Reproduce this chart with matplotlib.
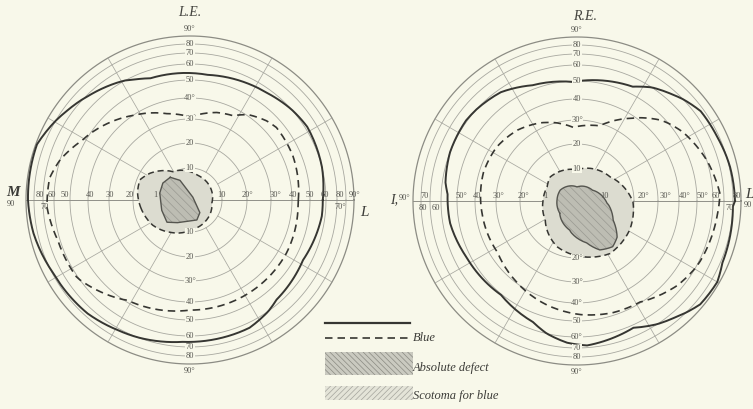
import numpy as np
import matplotlib
matplotlib.use("Agg")
import matplotlib.pyplot as plt
from matplotlib.patches import Polygon, Rectangle

BG = "#f8f8ea"
INK = "#363632"
GRID = "#a8a8a0"
SERIF = ["Liberation Serif", "DejaVu Serif"]

# perimeter scale: field degrees -> chart radius
ring_deg = [0, 10, 20, 30, 40, 50, 60, 70, 80, 90]
ring_rad = [0, 32, 57, 81, 102, 120, 136, 147, 156, 164]

# ---------------- L.E. (meridian angle in degrees, field extent in degrees)
le_white_ang = [0, 14, 32, 54, 82, 93, 108, 115, 122, 135, 144, 160, 180, 192, 208, 228, 241, 267, 295, 311, 332, 353]
le_white_deg = [58, 60, 62, 57.5, 54, 54.5, 55, 58, 62, 69, 75.5, 88.5, 87.5, 85, 79, 76.5, 72, 65.5, 64.5, 57.5, 55, 58]
le_blue_ang = [0, 23, 40, 46, 55, 63, 73, 90, 105, 124, 151, 171, 183, 197, 214, 238, 270, 299, 331, 356]
le_blue_deg = [43.5, 45.5, 46, 44.5, 41, 36.5, 35, 31, 34, 40, 52, 65.5, 66.5, 62, 61, 49, 44.5, 44.5, 44.5, 43.5]
le_scot_ang = [-172, -146, -122, -90, -50, -8, 33, 74, 121, 146, 158, 172]
le_scot_deg = [17.2, 15.2, 12.4, 9.4, 8.1, 6.9, 7.5, 8.1, 10.4, 16.4, 18.8, 18.4]
le_abs_ang = [131, 117, 45, -52, -71, -119, -136, -160, 167, 148]
le_abs_deg = [9.4, 6.9, 1.25, 5, 6.6, 8.1, 10, 9.4, 9.7, 10]

# ---------------- R.E.
re_white_ang = [0, 12.5, 24.5, 36, 48, 64, 92, 111, 125, 144, 159, 172, 177, 190, 207, 231, 250, 266, 274, 294, 311, 320, 330, 337, 358]
re_white_deg = [82.5, 81, 78, 76.5, 66.5, 54.5, 49.5, 52.5, 58, 61, 60, 58, 56, 55.5, 52.5, 50.5, 55.5, 65.5, 68, 62.5, 76.5, 86, 87.5, 82.5, 80]
re_blue_ang = [3, 17.5, 33, 44, 56, 73, 93, 115, 130, 146, 163, 188, 213, 233, 254, 272, 288, 302, 320, 334, 354]
re_blue_deg = [66.5, 60, 54, 48, 39, 29, 27, 32.5, 35.5, 37.5, 38, 37, 36.5, 39.5, 43.5, 46.5, 48.5, 49.5, 57, 61, 64.5]
re_scot_ang = [-149, -113, -84, -58, -29, -1, 36, 90, 138, 155, 180]
re_scot_deg = [12, 17.2, 19.6, 22.1, 21.3, 19.6, 13.6, 9.7, 11.6, 10.4, 10.8]
re_abs_ang = [-145, -104, -77, -65, -52, -42, -28, -4, 35, 90, 147, 177]
re_abs_deg = [6.6, 9.4, 14.4, 18.8, 20.4, 18.8, 13.6, 9.4, 5.9, 4.4, 6.25, 6.25]

# tick labels
le_top_labels = ["10", "20", "30", "40°", "50", "60", "70", "80", "90°"]
le_bot_labels = ["10", "20", "30°", "40", "50", "60", "70", "80", "90°"]
re_top_labels = ["10", "20", "30°", "40", "50", "60", "70", "80", "90°"]
re_bot_labels = ["", "20°", "30°", "40°", "50", "60°", "70", "80", "90°"]
le_left_labels = ["1", "20", "30", "40", "50", "60", "70", "80"]
le_right_labels = ["10", "20°", "30°", "40", "50", "60", "70°", "80", "90°"]
re_left_labels = ["1", "20°", "30°", "40", "50°", "60", "70", "80"]
re_right_labels = ["10", "20°", "30°", "40°", "50°", "60", "70", "80"]

legend_labels = ["", "Blue", "Absolute defect", "Scotoma for blue"]

# layout: radial placement of the horizontal-axis numbers
le_left_pos = [35, 60, 80, 100, 125, 138, 145, 150]
le_right_pos = [32, 57, 85, 103, 120, 135, 150, 150, 165]
re_left_pos = [32, 54, 79, 100, 116, 141, 152, 154]
re_right_pos = [28, 66, 88, 108, 125, 139, 153, 160]


def to_xy(cx, cy, ang, deg, arc=True, closed=True):
    a = np.asarray(ang, float)
    d = np.asarray(deg, float)
    if closed:
        a = np.append(a, a[0])
        d = np.append(d, d[0])
    if arc:
        aa, dd = [], []
        for i in range(len(a) - 1):
            da = (a[i + 1] - a[i] + 180) % 360 - 180
            t = np.linspace(0, 1, 12, endpoint=False)
            aa.append(a[i] + t * da)
            dd.append(d[i] + t * (d[i + 1] - d[i]))
        aa.append([a[-1]])
        dd.append([d[-1]])
        a = np.concatenate(aa)
        d = np.concatenate(dd)
    r = np.interp(d, ring_deg, ring_rad)
    th = np.radians(a)
    return cx + r * np.cos(th), cy - r * np.sin(th)


def lab(ax, x, y, s, size=6, box=True, **kw):
    bb = dict(boxstyle="square,pad=0.05", fc=BG, ec="none") if box else None
    ax.text(x, y, s, fontsize=size, family=SERIF, color="#55554f",
            ha="center", va="center", bbox=bb, zorder=6, **kw)


def draw_grid(ax, cx, cy):
    th = np.linspace(0, 2 * np.pi, 400)
    for k, rr in enumerate(ring_rad[1:]):
        outer = k == len(ring_rad) - 2
        ax.plot(cx + rr * np.cos(th), cy - rr * np.sin(th),
                color="#8c8c84" if outer else GRID, lw=0.9 if outer else 0.6, zorder=1)
    R1, R9 = ring_rad[1], ring_rad[-1]
    for m in range(30, 360, 30):
        if m % 90 == 0:
            continue
        t = np.radians(m)
        ax.plot([cx + R1 * np.cos(t), cx + R9 * np.cos(t)],
                [cy - R1 * np.sin(t), cy - R9 * np.sin(t)], color=GRID, lw=0.55, zorder=1)
    ax.plot([cx - R9, cx + R9], [cy, cy], color="#909088", lw=0.7, zorder=1)


def draw_chart(ax, cx, cy, white, blue, scot, absd, abs_arc,
               top_labels, bot_labels, left_labels, right_labels,
               left_pos, right_pos, left_below, right_below):
    draw_grid(ax, cx, cy)
    sx, sy = to_xy(cx, cy, *scot)
    ax.add_patch(Polygon(np.c_[sx, sy], closed=True, fc="#dcdcd0", ec="none", zorder=2))
    ax_, ay_ = to_xy(cx, cy, *absd, arc=abs_arc)
    ax.add_patch(Polygon(np.c_[ax_, ay_], closed=True, fc="#bdbdb3", ec="#9a9a92",
                         lw=0, hatch="\\\\\\\\", zorder=3))
    ax.plot(ax_, ay_, color="#55554f", lw=1.0, zorder=4)
    ax.plot(sx, sy, color=INK, lw=1.1, ls=(0, (4, 2.5)), zorder=4)
    wx, wy = to_xy(cx, cy, *white)
    ax.plot(wx, wy, color=INK, lw=1.4, zorder=5)
    bx, by = to_xy(cx, cy, *blue)
    ax.plot(bx, by, color=INK, lw=1.2, ls=(0, (4.5, 3)), zorder=5)
    for k, s in enumerate(top_labels):
        r = ring_rad[k + 1] + (7 if k == 8 else 0)
        if s:
            lab(ax, cx, cy - r, s, box=(k != 8))
    for k, s in enumerate(bot_labels):
        r = ring_rad[k + 1] + (7 if k == 8 else 0)
        if s:
            lab(ax, cx, cy + r, s, box=(k != 8))
    for k, s in enumerate(left_labels):
        below = k in left_below
        lab(ax, cx - left_pos[k], cy + (7 if below else -5), s, box=False)
    for k, s in enumerate(right_labels):
        below = k in right_below
        lab(ax, cx + right_pos[k], cy + (7 if below else -5), s, box=False)


fig = plt.figure(figsize=(7.53, 4.09), dpi=100, facecolor=BG)
ax = fig.add_axes([0, 0, 1, 1])
ax.set_facecolor(BG)
ax.set_xlim(0, 753)
ax.set_ylim(409, 0)
ax.set_aspect("equal")
ax.axis("off")
plt.rcParams["hatch.linewidth"] = 0.5

# L.E.
cxL, cyL = 190, 200
draw_chart(ax, cxL, cyL, (le_white_ang, le_white_deg), (le_blue_ang, le_blue_deg),
           (le_scot_ang, le_scot_deg), (le_abs_ang, le_abs_deg), False,
           le_top_labels, le_bot_labels, le_left_labels, le_right_labels,
           le_left_pos, le_right_pos, left_below={6}, right_below={6})
ax.text(cxL, 13, "L.E.", fontsize=10, family=SERIF, style="italic", color="#44443f",
        ha="center", va="center")
ax.text(13, 193, "M", fontsize=11, family=SERIF, style="italic", weight="bold",
        color="#3c3c38", ha="center", va="center")
lab(ax, 11, 204, "90", box=False)
ax.text(364, 213, "L", fontsize=11, family=SERIF, style="italic", color="#3c3c38",
        ha="center", va="center")

# R.E.
cxR, cyR = 577, 201
draw_chart(ax, cxR, cyR, (re_white_ang, re_white_deg), (re_blue_ang, re_blue_deg),
           (re_scot_ang, re_scot_deg), (re_abs_ang, re_abs_deg), True,
           re_top_labels, re_bot_labels, re_left_labels, re_right_labels,
           re_left_pos, re_right_pos, left_below={5, 7}, right_below={6})
ax.text(cxR + 8, 16, "R.E.", fontsize=10, family=SERIF, style="italic", color="#44443f",
        ha="center", va="center")
ax.text(394, 200, "I,", fontsize=10, family=SERIF, style="italic", color="#3c3c38",
        ha="center", va="center")
lab(ax, 405, 198, "90°", box=False)
ax.text(749, 194, "L", fontsize=11, family=SERIF, style="italic", color="#3c3c38",
        ha="center", va="center")
lab(ax, 748, 205, "90", box=False)

# legend
ax.plot([325, 410], [323, 323], color=INK, lw=1.6)
ax.plot([325, 408], [338, 338], color=INK, lw=1.2, ls=(0, (4.5, 3)))
ax.add_patch(Rectangle((325, 352), 88, 23, fc="#cacac0", ec="#8a8a82", lw=0,
                       hatch="\\\\\\\\\\\\"))
ax.add_patch(Rectangle((325, 386), 88, 14, fc="#e4e4d8", ec="#a4a49c", lw=0,
                       hatch="//////"))
for s, y in zip(legend_labels, [323, 338, 368, 396]):
    if s:
        ax.text(413, y, s, fontsize=9, family=SERIF, style="italic", color="#3c3c38",
                ha="left", va="center")

fig.savefig("out.png", dpi=100, facecolor=BG)
